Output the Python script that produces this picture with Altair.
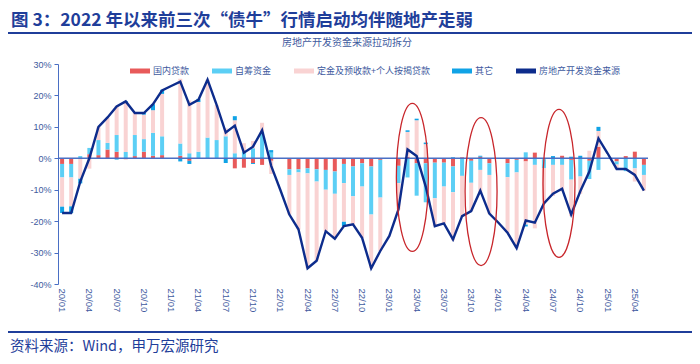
import altair as alt
import pandas as pd

# ---------------- data ----------------
months = [f"{y}/{m:02d}" for y in range(20, 26) for m in range(1, 13)][:65]
tick_months = months[::3]

series_names = ["国内贷款", "自筹资金", "定金及预收款+个人按揭贷款", "其它"]
line_name = "房地产开发资金来源"
palette = ["#E85A5A", "#5CCFF5", "#F9D3D3", "#10A3E6", "#0D2C8C"]

N = None
loan = [-1.8, -1.8, 0, 1.3, 1.0, 2.8, 2.1, -0.3, 0.7, 2.1, 0.8, 1.0, N,
        0.8, -0.8, 0, 0, 0, 0, -3.2, -3.0, -1.5, -2.1, -0.8, N,
        -3.5, -3.5, -3.2, -3.5, -3.7, -4.2, -1.8, -2.6, -1.6, -2.6, -0.5, N,
        -2.4, 0.5, -1.6, -1.6, -1.4, -1.4, -2.6, 0.3, -0.8, 0.5, -1.6, N,
        -1.6, -0.5, -1.0, 1.8, -0.3, 0, 0.8, -0.5, 0, -0.8, 3.7, N,
        -1.0, 0.7, 2.1, -2.1]
selfraised = [-4.3, -4.3, 0.7, 2.0, 4.8, 2.1, 5.3, 2.0, 6.7, 4.0, 7.3, 6.0, N,
              3.9, 1.6, 2.1, 6.6, 5.8, 7.0, 1.6, 2.0, 3.2, 8.4, 1.8, N,
              -1.8, -1.0, -1.6, -3.9, -6.3, -7.1, -6.1, -9.5, -7.4, -15.3, -12.0, N,
              -5.5, -6.1, -10.3, -12.4, -11.3, -7.6, -8.2, -5.6, -7.0, -3.7, -3.7, N,
              -4.4, -4.0, 1.9, -2.1, -2.8, -2.1, -2.1, -6.3, -5.8, -5.8, -3.7, N,
              -1.0, -4.1, -3.2, -3.2]
deposit = [-9.3, -9.2, -6.5, -3.3, 4.2, 8.0, 9.3, 15.6, 7.0, 7.8, 7.2, 13.5, N,
           20.6, 16.8, 15.8, 18.4, 11.1, 2.5, 10.5, 2.8, 2.3, 2.9, -4.2, N,
           -12.6, -18.2, -30.2, -25.2, -13.2, -14.3, -12.3, -8.9, -16.3, -17.1, -17.0, N,
           -8.4, 7.9, 12.1, 4.5, -8.9, -11.7, -15.3, -13.1, -9.0, -7.4, -12.3, N,
           -17.7, -24.1, -20.1, -20.2, -11.3, -9.9, -8.4, -11.6, -5.5, 2.4, 5.0, N,
           -1.4, 0, -4.2, -5.0]
other = [-2.0, -2.1, -1.5, 0, 0, 0, -0.4, 0.6, 0, 0.5, 1.9, 1.3, N,
         -1.0, -1.0, 1.0, 0, 0, -1.5, 1.3, 0, -0.3, 0, 0.8, N,
         0, 0, 0, 0, 0, 0, -1.4, 0, 0, 0, 0, N,
         0, 0.5, 0.5, 0.5, 0, 0, 0.3, 0, 0, 0.3, 0, N,
         0, 0, -0.6, 0, 0, 0.7, 0, 0.5, 0.8, 0, 1.3, N,
         0, 0, 0, 0]
total = [-17.4, -17.4, -7.4, 0.0, 10.0, 13.0, 16.5, 18.1, 14.4, 14.4, 17.2, 21.6, 23.0,
         24.4, 17.0, 18.6, 25.0, 17.0, 8.2, 10.4, 1.8, 3.7, 8.9, -2.4, -10.0,
         -17.9, -22.6, -35.0, -32.6, -23.2, -25.6, -21.6, -21.0, -25.3, -35.0, -29.5, -24.7,
         -16.3, 2.8, 0.7, -9.0, -21.6, -20.7, -25.8, -18.4, -16.8, -10.3, -17.6, -20.5,
         -23.7, -28.6, -19.8, -20.5, -14.4, -11.3, -9.7, -17.9, -10.5, -4.2, 6.3, 1.6,
         -3.4, -3.4, -5.3, -10.3]

# highlighted periods (red ellipses): month, centre value, pixel nudge
ellipse_months = ["23/03", "23/11", "24/07"]
ellipse_centers = [-6.1, -10.6, -8.0]
ellipse_nudge = [4.8, 0.8, 6.0]

TITLE = "图 3：2022 年以来前三次“债牛”行情启动均伴随地产走弱"
SUBTITLE = "房地产开发资金来源拉动拆分"
SOURCE = "资料来源：Wind，申万宏源研究"

# ---------------- tables ----------------
rows = []
for i, m in enumerate(months):
    for k, (name, arr) in enumerate(zip(series_names, [loan, selfraised, deposit, other])):
        if arr[i] is not None:
            rows.append({"month": m, "series": name, "value": arr[i], "order": k})
bars_df = pd.DataFrame(rows)
line_df = pd.DataFrame({"month": months, "value": total})

CJK = "Noto Sans CJK SC"
NUM = "Liberation Sans"
AXIS_BLUE = "#4A6FC4"
LABEL_BLUE = "#3E5A9E"
NAVY = "#1F3E9A"

x_scale = alt.Scale(domain=months, paddingInner=0.1, paddingOuter=0)
x_axis = alt.Axis(values=tick_months, labelAngle=90, domain=False, ticks=False,
                  labelPadding=4, labelFontSize=9.5, labelFont=NUM,
                  labelColor=LABEL_BLUE, title=None, grid=False, labelOverlap=False)
y_scale = alt.Scale(domain=[-40, 30], nice=False, zero=False)
y_axis = alt.Axis(values=[-40, -30, -20, -10, 0, 10, 20, 30],
                  labelExpr="datum.value + '%'", domainColor=AXIS_BLUE,
                  tickColor=AXIS_BLUE, tickSize=4, grid=False, title=None,
                  labelFontSize=9, labelFont=NUM, labelColor=LABEL_BLUE,
                  labelPadding=3, labelOverlap=False, labelFlush=False)

x_enc = alt.X("month:N", sort=months, scale=x_scale, axis=x_axis)
y_stack = alt.Y("value:Q", stack="zero", scale=y_scale, axis=y_axis)
y_enc = alt.Y("value:Q", scale=y_scale, axis=y_axis)

RECT = "M-1,-0.25L1,-0.25L1,0.25L-1,0.25Z"

bars = alt.Chart(bars_df).mark_bar(width=4).encode(
    x=x_enc,
    y=y_stack,
    color=alt.Color("series:N",
                    scale=alt.Scale(domain=series_names + [line_name], range=palette),
                    legend=alt.Legend(title=None, orient="none", legendX=72, legendY=-3,
                                      direction="horizontal", columns=5,
                                      symbolType=RECT, symbolSize=400,
                                      symbolStrokeWidth=0, labelFontSize=9,
                                      labelFont=CJK, labelColor=LABEL_BLUE,
                                      columnPadding=22, labelOffset=3)),
    order=alt.Order("order:Q", sort="ascending"),
)

zero_rule = alt.Chart(pd.DataFrame({"value": [0]})).mark_rule(
    color=AXIS_BLUE, strokeWidth=1.5).encode(y=y_enc)

line = alt.Chart(line_df).mark_line(strokeWidth=2.4).encode(
    x=x_enc,
    y=y_enc,
    color=alt.datum(line_name),
)

k = 0.5523
a = 0.216
ELLIPSE = (f"M0,-1C{k*a:.4f},-1 {a},-{k} {a},0C{a},{k} {k*a:.4f},1 0,1"
           f"C-{k*a:.4f},1 -{a},{k} -{a},0C-{a},-{k} -{k*a:.4f},-1 0,-1Z")
ellipses = []
for m, c, dx in zip(ellipse_months, ellipse_centers, ellipse_nudge):
    ellipses.append(
        alt.Chart(pd.DataFrame({"month": [m], "value": [c]})).mark_point(
            shape=ELLIPSE, size=21904, filled=False, color="#C8262B",
            strokeWidth=1.3, opacity=1, xOffset=dx).encode(x=x_enc, y=y_enc)
    )

one = pd.DataFrame({"a": [0]})
title = alt.Chart(one).mark_text(text=TITLE, align="left", baseline="middle", font=CJK,
                                 fontSize=17.5, fontWeight="bold", color=NAVY).encode(
    x=alt.value(-47), y=alt.value(-43))
title_rule = alt.Chart(one).mark_rule(color=NAVY, strokeWidth=2.2).encode(
    x=alt.value(-50), x2=alt.value(634), y=alt.value(-31))
subtitle = alt.Chart(one).mark_text(text=SUBTITLE, align="center", baseline="middle",
                                    font=CJK, fontSize=10, color=LABEL_BLUE).encode(
    x=alt.value(289), y=alt.value(-21))
foot_rule = alt.Chart(one).mark_rule(color=NAVY, strokeWidth=2.2).encode(
    x=alt.value(-50), x2=alt.value(634), y=alt.value(268))
source = alt.Chart(one).mark_text(text=SOURCE, align="left", baseline="middle", font=CJK,
                                  fontSize=14.5, color=NAVY).encode(
    x=alt.value(-48), y=alt.value(283))

chart = alt.layer(bars, zero_rule, line, *ellipses, title, title_rule, subtitle,
                  foot_rule, source).properties(
    width=590, height=220,
    autosize=alt.AutoSizeParams(type="none"),
    padding={"left": 50, "top": 56, "right": 44, "bottom": 72},
    background="white",
).configure_view(stroke=None)

chart.save("out.html", embed_options={"renderer": "svg", "actions": False})
